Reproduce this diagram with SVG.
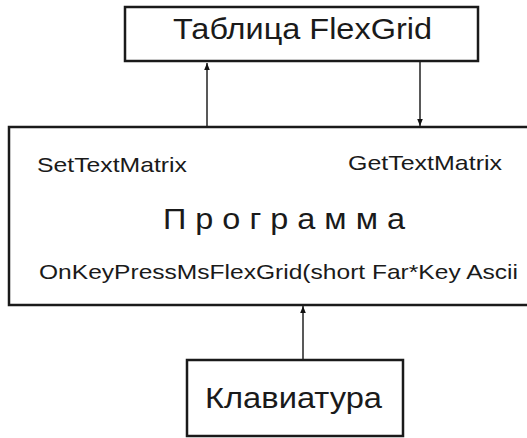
<svg xmlns="http://www.w3.org/2000/svg" width="527" height="438" viewBox="0 0 527 438">
<defs>
<style>
.box{fill:#fff;stroke:#1a1a1a;stroke-width:2.5}
.t{font-family:"Liberation Sans",Arial,sans-serif;fill:#1a1a1a}
.c{stroke:#222;stroke-width:1.5;fill:none}
</style>
<marker id="ah" viewBox="0 0 10 10" refX="10" refY="5" markerWidth="7" markerHeight="7" markerUnits="userSpaceOnUse" orient="auto">
<path d="M0,1 L10,5 L0,9 Z" fill="#111"/>
</marker>
</defs>
<rect width="527" height="438" fill="#fff"/>
<g id="program">
<rect class="box" x="9" y="127" width="540" height="178"/>
<text class="t" x="37" y="172" font-size="21" textLength="150" lengthAdjust="spacingAndGlyphs">SetTextMatrix</text>
<text class="t" x="348" y="170" font-size="21" textLength="154" lengthAdjust="spacingAndGlyphs">GetTextMatrix</text>
<text class="t" x="163" y="229" font-size="29" textLength="242" lengthAdjust="spacingAndGlyphs">П р о г р а м м а</text>
<text class="t" x="39" y="279" font-size="21" textLength="479" lengthAdjust="spacingAndGlyphs">OnKeyPressMsFlexGrid(short Far*Key Ascii</text>
</g>
<g id="table">
<rect class="box" x="125" y="7" width="353" height="54"/>
<text class="t" x="173" y="39" font-size="30" textLength="259" lengthAdjust="spacingAndGlyphs">Таблица FlexGrid</text>
</g>
<g id="keyboard">
<rect class="box" x="187" y="360" width="216" height="76"/>
<text class="t" x="205" y="408" font-size="30" textLength="177" lengthAdjust="spacingAndGlyphs">Клавиатура</text>
</g>
<g id="connectors">
<line class="c" x1="207" y1="126" x2="207" y2="63" marker-end="url(#ah)"/>
<line class="c" x1="420" y1="62" x2="420" y2="126" marker-end="url(#ah)"/>
<line class="c" x1="303" y1="359" x2="303" y2="306" marker-end="url(#ah)"/>
</g>
</svg>
